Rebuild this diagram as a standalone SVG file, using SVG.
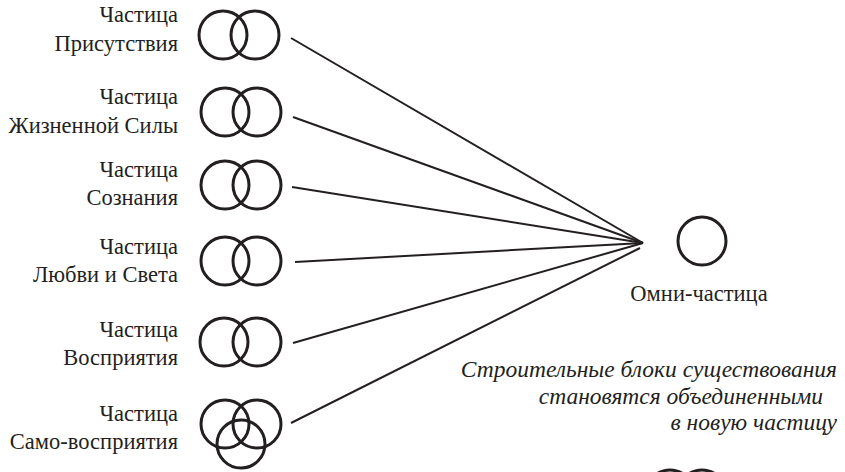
<svg xmlns="http://www.w3.org/2000/svg" width="845" height="472" viewBox="0 0 845 472">
<style>
.lbl{font-family:"Liberation Serif","Times New Roman",serif;font-size:22.5px;fill:#231f20;text-anchor:end}
.omni{font-family:"Liberation Serif","Times New Roman",serif;font-size:22.5px;fill:#231f20;text-anchor:middle}
.cap{font-family:"Liberation Serif","Times New Roman",serif;font-size:23.5px;font-style:italic;fill:#231f20;text-anchor:end}
.ring{fill:none;stroke:#231f20;stroke-width:3}
.conn{stroke:#231f20;stroke-width:2;fill:none}
</style>
<rect width="845" height="472" fill="#fff"/>
<g id="presence">
<text class="lbl" x="178" y="22">Частица</text>
<text class="lbl" x="178" y="51">Присутствия</text>
<circle class="ring" cx="223" cy="35" r="24"/>
<circle class="ring" cx="255" cy="35" r="24"/>
</g>
<g id="life-force">
<text class="lbl" x="178" y="104">Частица</text>
<text class="lbl" x="178" y="133">Жизненной Силы</text>
<circle class="ring" cx="225" cy="112" r="24"/>
<circle class="ring" cx="257" cy="112" r="24"/>
</g>
<g id="consciousness">
<text class="lbl" x="178" y="177">Частица</text>
<text class="lbl" x="178" y="205">Сознания</text>
<circle class="ring" cx="225" cy="185" r="24"/>
<circle class="ring" cx="257" cy="185" r="24"/>
</g>
<g id="love-light">
<text class="lbl" x="178" y="254">Частица</text>
<text class="lbl" x="178" y="282">Любви и Света</text>
<circle class="ring" cx="225" cy="261" r="24"/>
<circle class="ring" cx="257" cy="261" r="24"/>
</g>
<g id="perception">
<text class="lbl" x="178" y="337">Частица</text>
<text class="lbl" x="178" y="365">Восприятия</text>
<circle class="ring" cx="224" cy="342" r="24"/>
<circle class="ring" cx="257" cy="342" r="24"/>
</g>
<g id="self-perception">
<text class="lbl" x="178" y="421">Частица</text>
<text class="lbl" x="178" y="449">Само-восприятия</text>
<circle class="ring" cx="225" cy="424" r="24"/>
<circle class="ring" cx="257" cy="424" r="24"/>
<circle class="ring" cx="241" cy="444" r="24"/>
</g>
<g id="omni">
<circle class="ring" cx="702" cy="241" r="24"/>
<text class="omni" x="699" y="301">Омни-частица</text>
</g>
<g id="caption">
<text class="cap" x="837" y="377">Строительные блоки существования</text>
<text class="cap" x="823" y="404">становятся объединенными</text>
<text class="cap" x="837" y="430">в новую частицу</text>
</g>
<g id="new-particle">
<circle class="ring" cx="670" cy="494" r="24"/>
<circle class="ring" cx="702" cy="494" r="24"/>
</g>
<g id="connectors">
<line class="conn" x1="291" y1="38" x2="643" y2="243"/>
<line class="conn" x1="293" y1="117" x2="643" y2="243"/>
<line class="conn" x1="292" y1="187" x2="643" y2="243"/>
<line class="conn" x1="295" y1="262" x2="643" y2="243"/>
<line class="conn" x1="293" y1="343" x2="643" y2="243"/>
<line class="conn" x1="291" y1="423" x2="640" y2="248"/>
</g>
</svg>
